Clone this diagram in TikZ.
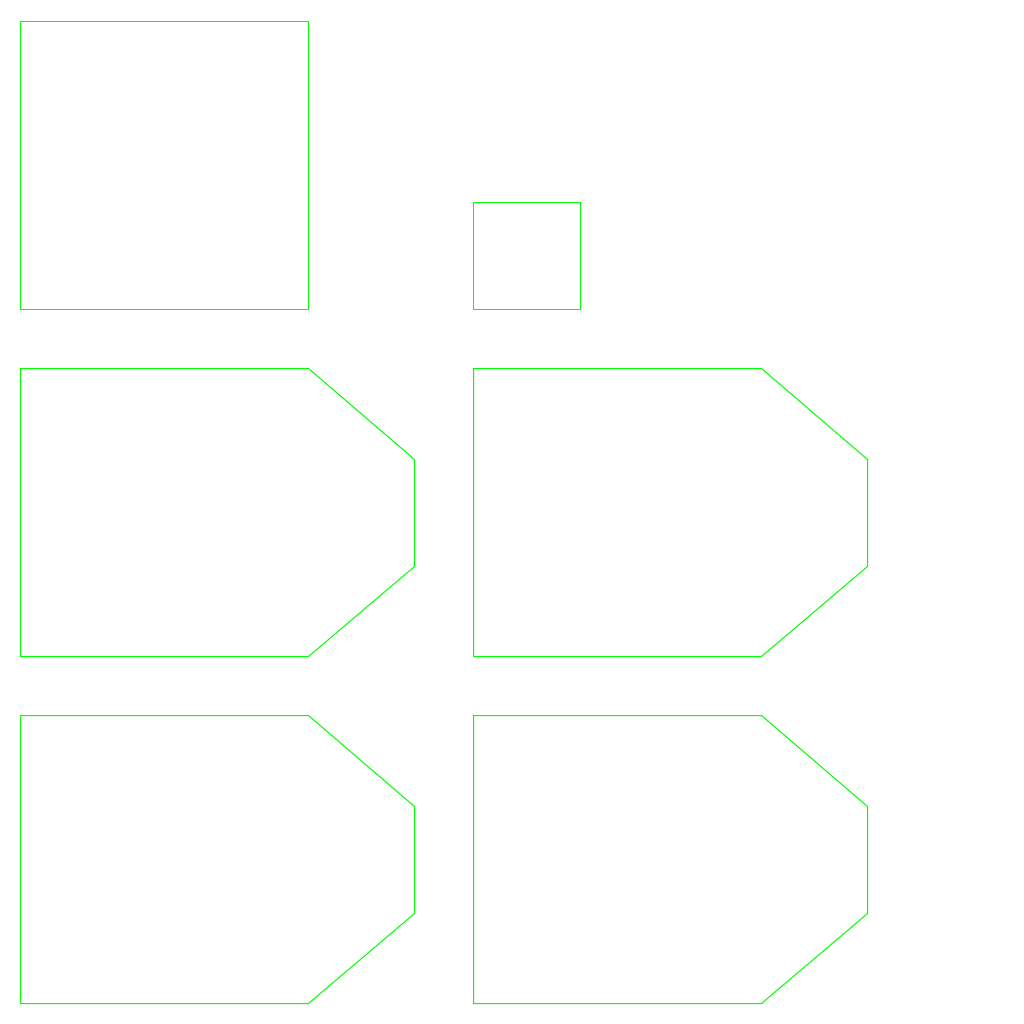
\documentclass[tikz,border=0pt]{standalone}
\definecolor{outlinegreen}{RGB}{0,255,0}
\begin{document}
\begin{tikzpicture}[x=1pt,y=-1pt,
  shapeline/.style={draw=outlinegreen,line width=1pt,line join=miter}]
\useasboundingbox[fill=white] (0,0) rectangle (1024,1024);
% top row
\draw[shapeline] (20.5,21.5) rectangle (308.5,309.5);
\draw[shapeline] (473.5,202.5) rectangle (580.5,309.5);
% pentagon shapes
\foreach \dx/\dy in {0/0, 453/0, 0/347, 453/347}{
  \draw[shapeline,shift={(\dx,\dy)}]
    (20.5,368.5) -- (308.5,368.5) -- (414.5,459.5) -- (414.5,566.5)
    -- (308.5,656.5) -- (20.5,656.5) -- cycle;
}
\end{tikzpicture}
\end{document}
